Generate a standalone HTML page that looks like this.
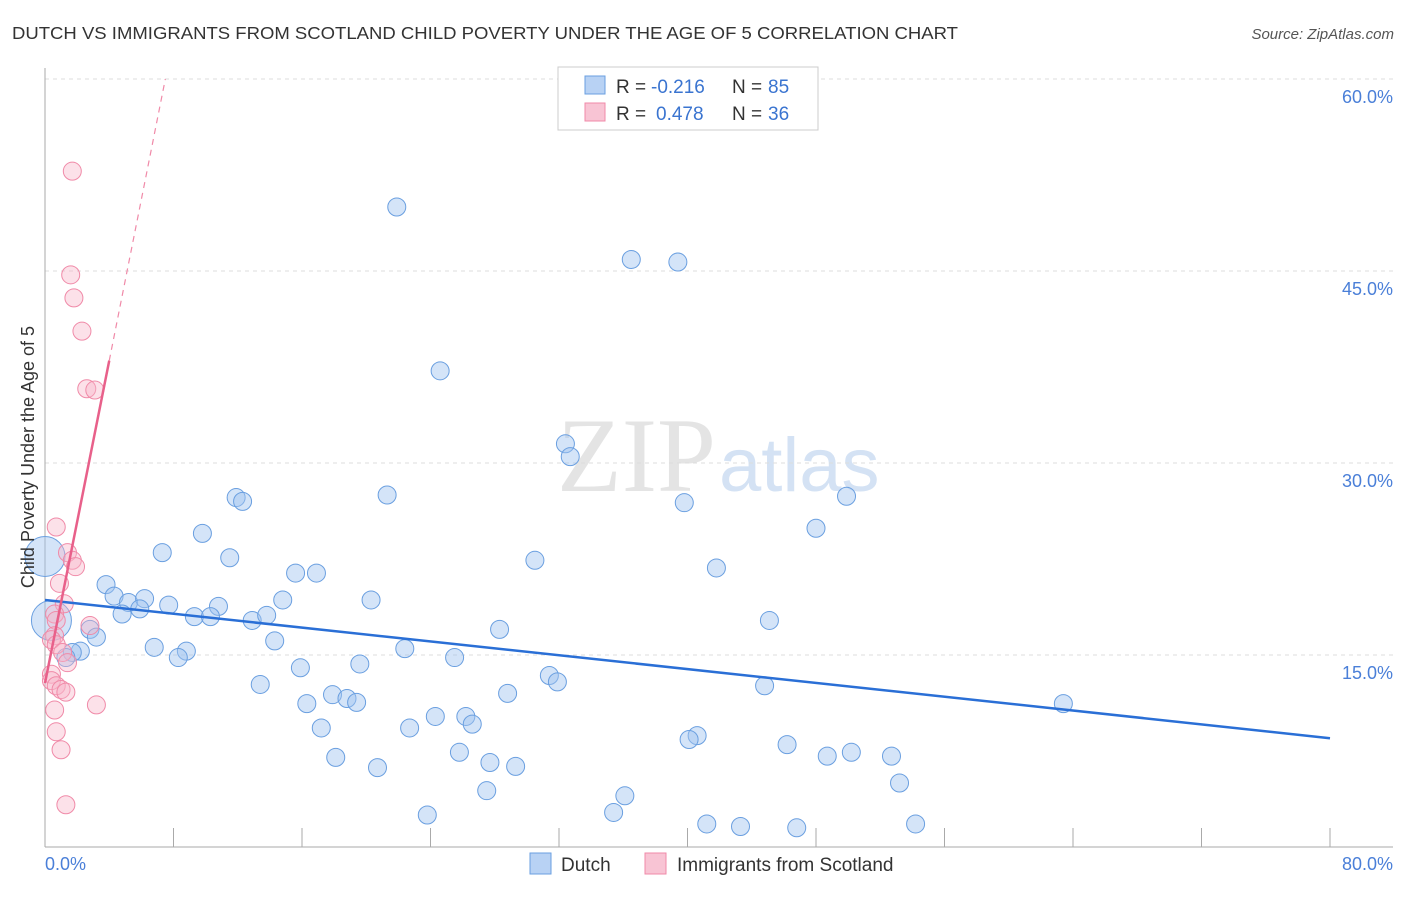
<!DOCTYPE html>
<html><head><meta charset="utf-8"><style>
body{margin:0;background:#fff;font-family:"Liberation Sans",sans-serif}
</style></head><body>
<svg id="c" width="1406" height="892" xmlns="http://www.w3.org/2000/svg">
<text x="12" y="39" font-size="17.5" fill="#333" textLength="946" lengthAdjust="spacingAndGlyphs">DUTCH VS IMMIGRANTS FROM SCOTLAND CHILD POVERTY UNDER THE AGE OF 5 CORRELATION CHART</text>
<text x="1394" y="39" font-size="15" fill="#555" font-style="italic" text-anchor="end">Source: ZipAtlas.com</text>
<text x="716" y="491" font-size="106" fill="#e4e4e4" font-family="Liberation Serif,serif" text-anchor="end">ZIP</text>
<text x="719" y="491" font-size="76" fill="#d4e2f4">atlas</text>
<g id="grid"></g><g id="marks"></g>
<text transform="translate(34,457) rotate(-90)" font-size="18" fill="#333" text-anchor="middle">Child Poverty Under the Age of 5</text>
<g>
<rect x="558" y="67" width="260" height="63" fill="#fff" stroke="#ccc"/>
<rect x="585" y="76" width="20" height="18" fill="#b8d2f4" stroke="#6a9fe0"/>
<rect x="585" y="103" width="20" height="18" fill="#f8c4d4" stroke="#f08aa8"/>
<text x="616" y="93" font-size="19" fill="#333">R =</text>
<text x="651" y="93" font-size="19" fill="#3a74d0">-0.216</text>
<text x="732" y="93" font-size="19" fill="#333">N =</text>
<text x="768" y="93" font-size="19" fill="#3a74d0">85</text>
<text x="616" y="120" font-size="19" fill="#333">R =</text>
<text x="656" y="120" font-size="19" fill="#3a74d0">0.478</text>
<text x="732" y="120" font-size="19" fill="#333">N =</text>
<text x="768" y="120" font-size="19" fill="#3a74d0">36</text>
</g>
<g>
<rect x="530" y="853" width="21" height="21" fill="#b8d2f4" stroke="#6a9fe0"/>
<text x="561" y="871" font-size="19" fill="#333">Dutch</text>
<rect x="645" y="853" width="21" height="21" fill="#f8c4d4" stroke="#f08aa8"/>
<text x="677" y="871" font-size="19" fill="#333">Immigrants from Scotland</text>
</g>
</svg>
<script>
const xTicks=[0,80];
const yTicks=[15,30,45,60];
const dutchX=[21.9,36.5,39.4,24.6,32.4,32.7,11.9,12.3,21.3,39.8,49.9,9.8,48.0,7.3,11.5,30.5,15.6,16.9,41.8,3.8,4.3,5.2,6.2,4.8,5.9,7.7,10.8,14.8,20.3,9.3,10.3,12.9,13.8,45.1,28.3,2.8,3.2,14.3,6.8,8.8,8.3,22.4,2.2,1.7,1.3,25.5,15.9,19.6,31.4,31.9,13.4,44.8,17.9,28.8,18.8,19.4,16.3,63.4,24.3,26.2,26.6,17.2,22.7,40.6,40.1,46.2,25.8,50.2,48.7,52.7,18.1,27.7,29.3,20.7,53.2,27.5,36.1,35.4,23.8,41.2,43.3,46.8,54.2,0,0.4];
const dutchY=[50.0,45.9,45.7,37.2,31.5,30.5,27.3,27.0,27.5,26.9,27.4,24.5,24.9,23.0,22.6,22.4,21.4,21.4,21.8,20.5,19.6,19.1,19.4,18.2,18.6,18.9,18.8,19.3,19.3,18.0,18.0,17.7,18.1,17.7,17.0,17.0,16.4,16.1,15.6,15.3,14.8,15.5,15.3,15.2,14.8,14.8,14.0,14.3,13.4,12.9,12.7,12.6,11.9,12.0,11.6,11.3,11.2,11.2,10.2,10.2,9.6,9.3,9.3,8.7,8.4,8.0,7.4,7.4,7.1,7.1,7.0,6.6,6.3,6.2,5.0,4.4,4.0,2.7,2.5,1.8,1.6,1.5,1.8,22.7,17.7];
const dutchSize=[9,9,9,9,9,9,9,9,9,9,9,9,9,9,9,9,9,9,9,9,9,9,9,9,9,9,9,9,9,9,9,9,9,9,9,9,9,9,9,9,9,9,9,9,9,9,9,9,9,9,9,9,9,9,9,9,9,9,9,9,9,9,9,9,9,9,9,9,9,9,9,9,9,9,9,9,9,9,9,9,9,9,9,20,20];
const scotX=[1.7,1.6,1.8,2.3,2.6,3.1,0.7,1.4,1.7,1.9,0.9,1.2,0.6,0.7,2.8,0.6,0.4,0.7,1.1,1.4,0.4,0.4,0.7,1.0,1.3,0.6,3.2,0.7,1.0,1.3];
const scotY=[52.8,44.7,42.9,40.3,35.8,35.7,25.0,23.0,22.4,21.9,20.6,19.0,18.2,17.7,17.3,16.5,16.2,15.8,15.2,14.4,13.5,13.0,12.6,12.3,12.1,10.7,11.1,9.0,7.6,3.3];
const dutchTrend=[19.3,8.5];
const scotTrend=[12.8,38.0];
const scotTrendEndX=4.0;
const sx=v=>45+v/80*1285, sy=v=>847-v/15*192;
const NS='http://www.w3.org/2000/svg';
const g=document.getElementById('grid'), m=document.getElementById('marks');
function mk(p,t,a){const e=document.createElementNS(NS,t);for(const k in a)e.setAttribute(k,a[k]);p.appendChild(e);return e;}
yTicks.forEach(v=>{
const l=mk(g,'line',{x1:45,x2:1393,y1:sy(v),y2:sy(v),stroke:'#ddd','stroke-dasharray':'4,4'});


const t=mk(g,'text',{x:1393,y:sy(v)+24,'font-size':18,fill:'#4a7fd8','text-anchor':'end'});t.textContent=v.toFixed(1)+'%';


});
const ax=mk(g,'line',{x1:45,x2:45,y1:68,y2:847,stroke:'#aaa'});


const bx=mk(g,'line',{x1:45,x2:1393,y1:847,y2:847,stroke:'#aaa'});


for(let i=1;i<=10;i++){const tk=mk(g,'line',{x1:sx(i*8),x2:sx(i*8),y1:828,y2:847,stroke:'#aaa'});

}
xTicks.forEach((v,i)=>{const t=mk(g,'text',{x:i?1393:45,y:870,'font-size':18,fill:'#4a7fd8','text-anchor':i?'end':'start'});t.textContent=v.toFixed(1)+'%';

});
dutchX.forEach((v,i)=>{const c=mk(m,'circle',{cx:sx(v),cy:sy(dutchY[i]),r:dutchSize[i],fill:'rgba(160,196,240,0.45)',stroke:'#6a9fe0','stroke-width':1});

});
scotX.forEach((v,i)=>{const c=mk(m,'circle',{cx:sx(v),cy:sy(scotY[i]),r:9,fill:'rgba(248,180,200,0.4)',stroke:'#f08aa8','stroke-width':1});

});
const bl=mk(m,'line',{x1:sx(0),y1:sy(dutchTrend[0]),x2:sx(80),y2:sy(dutchTrend[1]),stroke:'#2a6fd6','stroke-width':2.5});


const slope=(scotTrend[1]-scotTrend[0])/scotTrendEndX;
const xEnd=(60-scotTrend[0])/slope;
const pd=mk(m,'line',{x1:sx(scotTrendEndX),y1:sy(scotTrend[1]),x2:sx(xEnd),y2:sy(60),stroke:'#f08aa8','stroke-width':1.2,'stroke-dasharray':'6,5'});


const pl=mk(m,'line',{x1:sx(0),y1:sy(scotTrend[0]),x2:sx(scotTrendEndX),y2:sy(scotTrend[1]),stroke:'#e8608a','stroke-width':2.5});


</script>
</body></html>
